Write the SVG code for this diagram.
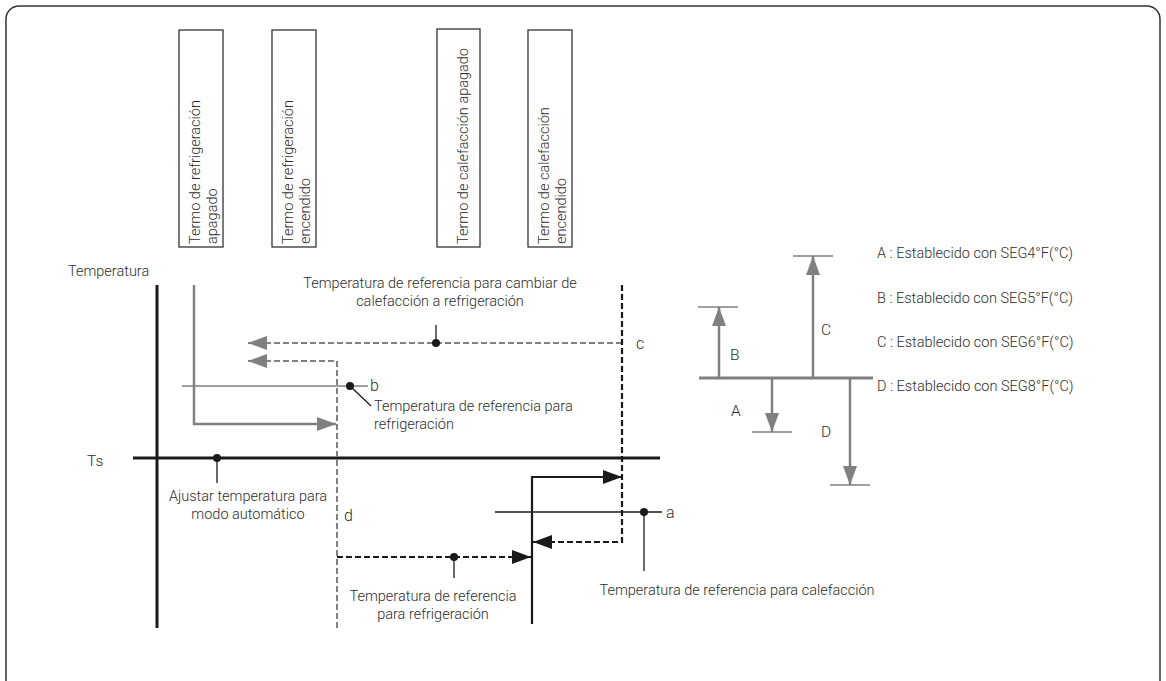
<svg xmlns="http://www.w3.org/2000/svg" width="1166" height="681" viewBox="0 0 1166 681">
<style>
text{font-family:Roboto,"Liberation Sans",sans-serif;font-size:14.5px;font-weight:300;fill:#2e2e2e}
.box{fill:#fff;stroke:#333;stroke-width:1.3}
.gth{stroke:#808080;stroke-width:2.5;fill:none}
.gthin{stroke:#808080;stroke-width:1.5;fill:none}
.gdash{stroke:#808080;stroke-width:2;fill:none;stroke-dasharray:6 3}
.bth{stroke:#1a1a1a;stroke-width:3;fill:none}
.bmid{stroke:#1a1a1a;stroke-width:2.2;fill:none}
.bdash{stroke:#1a1a1a;stroke-width:2.2;fill:none;stroke-dasharray:6 3}
.bthin{stroke:#1a1a1a;stroke-width:1.3;fill:none}
.dot{fill:#1a1a1a}
</style>
<defs>
<marker id="ag" markerUnits="userSpaceOnUse" markerWidth="20" markerHeight="14" refX="19" refY="7" orient="auto"><path d="M0,0 L19,7 L0,14 z" fill="#808080"/></marker>
<marker id="ab" markerUnits="userSpaceOnUse" markerWidth="20" markerHeight="14" refX="19" refY="7" orient="auto"><path d="M0,0 L19,7 L0,14 z" fill="#1a1a1a"/></marker>
</defs>
<rect x="6" y="6" width="1154" height="690" rx="13" fill="#fff" stroke="#333" stroke-width="1.5"/>

<g id="box-cool-off">
<rect class="box" x="179" y="30" width="44" height="217"/>
<text transform="translate(200,244) rotate(-90)"><tspan x="0" y="0">Termo de refrigeración</tspan><tspan x="0" y="17">apagado</tspan></text>
</g>
<g id="box-cool-on">
<rect class="box" x="272" y="30" width="44" height="217"/>
<text transform="translate(293,244) rotate(-90)"><tspan x="0" y="0">Termo de refrigeración</tspan><tspan x="0" y="17">encendido</tspan></text>
</g>
<g id="box-heat-off">
<rect class="box" x="437" y="29" width="43" height="218"/>
<text transform="translate(468,244) rotate(-90)">Termo de calefacción apagado</text>
</g>
<g id="box-heat-on">
<rect class="box" x="528" y="30" width="44" height="217"/>
<text transform="translate(549,244) rotate(-90)"><tspan x="0" y="0">Termo de calefacción</tspan><tspan x="0" y="17">encendido</tspan></text>
</g>

<g id="axes">
<line class="bth" x1="157" y1="285" x2="157" y2="628"/>
<line class="bth" x1="133" y1="458" x2="660" y2="458"/>
<text x="68" y="276">Temperatura</text>
<text x="87" y="466" style="font-size:15.5px">Ts</text>
</g>

<g id="connectors">
<path class="gth" d="M194,285 V424 H336" marker-end="url(#ag)"/>
<line class="gthin" x1="182" y1="386" x2="368" y2="386"/>
<path class="gdash" d="M622,343 H248" marker-end="url(#ag)"/>
<path class="gdash" d="M337,628 V361 H248" marker-end="url(#ag)"/>
<path class="bdash" d="M622,285 V542 H533" marker-end="url(#ab)"/>
<path class="bmid" d="M532,624 V477 H622" marker-end="url(#ab)"/>
<path class="bdash" d="M337,557 H531" marker-end="url(#ab)"/>
<line class="bthin" x1="495" y1="512" x2="662" y2="512"/>
<line class="bthin" x1="436" y1="343" x2="436" y2="325"/>
<line class="bthin" x1="350" y1="386" x2="371" y2="406"/>
<line class="bthin" x1="217" y1="458" x2="217" y2="483"/>
<line class="bthin" x1="454" y1="557" x2="454" y2="578"/>
<line class="bthin" x1="644" y1="512" x2="644" y2="571"/>
<circle class="dot" cx="436" cy="343" r="4"/>
<circle class="dot" cx="350" cy="386" r="4"/>
<circle class="dot" cx="217" cy="458" r="4"/>
<circle class="dot" cx="454" cy="557" r="4"/>
<circle class="dot" cx="644" cy="512" r="4"/>
</g>

<g id="labels">
<text x="440" y="288" text-anchor="middle">Temperatura de referencia para cambiar de</text>
<text x="440" y="306" text-anchor="middle">calefacción a refrigeración</text>
<text x="636" y="349" style="font-size:16px">c</text>
<text x="370" y="391" style="font-size:16px">b</text>
<text x="374" y="411">Temperatura de referencia para</text>
<text x="374" y="429">refrigeración</text>
<text x="248" y="501" text-anchor="middle">Ajustar temperatura para</text>
<text x="248" y="519" text-anchor="middle">modo automático</text>
<text x="666" y="518" style="font-size:16px">a</text>
<text x="344" y="521" style="font-size:16px">d</text>
<text x="433" y="601" text-anchor="middle">Temperatura de referencia</text>
<text x="433" y="619" text-anchor="middle">para refrigeración</text>
<text x="737" y="595" text-anchor="middle">Temperatura de referencia para calefacción</text>
</g>

<g id="legend-diagram">
<line class="gth" x1="699" y1="378" x2="873" y2="378" style="stroke-width:3"/>
<line class="gthin" x1="698" y1="307" x2="738" y2="307"/>
<line class="gthin" x1="793" y1="256" x2="833" y2="256"/>
<line class="gthin" x1="752" y1="432" x2="792" y2="432"/>
<line class="gthin" x1="830" y1="485" x2="870" y2="485"/>
<line class="gth" x1="719" y1="378" x2="719" y2="307" marker-end="url(#ag)"/>
<line class="gth" x1="813" y1="378" x2="813" y2="256" marker-end="url(#ag)"/>
<line class="gth" x1="772" y1="378" x2="772" y2="432" marker-end="url(#ag)"/>
<line class="gth" x1="850" y1="378" x2="850" y2="485" marker-end="url(#ag)"/>
<text x="730" y="360" style="font-size:15.5px">B</text>
<text x="821" y="335" style="font-size:15.5px">C</text>
<text x="731" y="416" style="font-size:15.5px">A</text>
<text x="821" y="437" style="font-size:15.5px">D</text>
</g>

<g id="legend-text">
<text x="877" y="258">A : Establecido con SEG4°F(°C)</text>
<text x="877" y="303">B : Establecido con SEG5°F(°C)</text>
<text x="877" y="347">C : Establecido con SEG6°F(°C)</text>
<text x="877" y="391">D : Establecido con SEG8°F(°C)</text>
</g>
</svg>
